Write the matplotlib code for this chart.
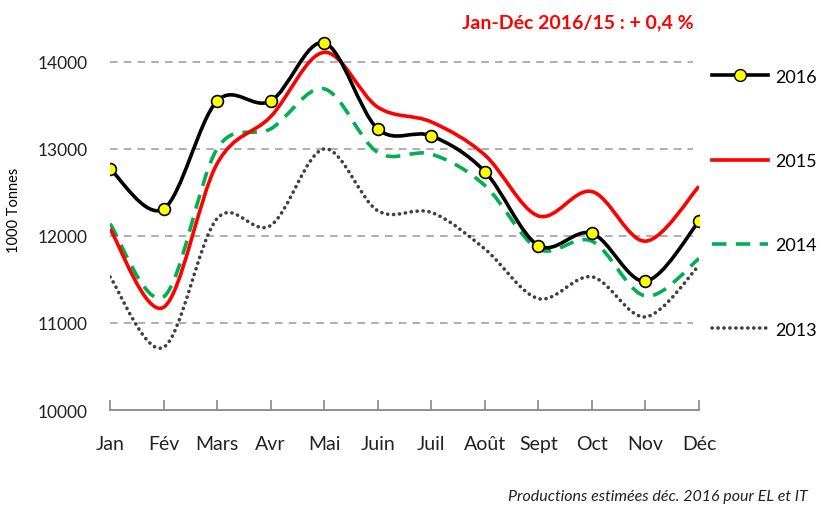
import matplotlib
matplotlib.use("Agg")
import matplotlib.pyplot as plt
import numpy as np
from matplotlib.path import Path
from matplotlib.patches import PathPatch
from matplotlib.lines import Line2D

plt.rcParams["font.family"] = ["Lato", "DejaVu Sans"]

months = ["Jan", "Fév", "Mars", "Avr", "Mai", "Juin", "Juil", "Août",
          "Sept", "Oct", "Nov", "Déc"]
prod_2016 = [12770, 12310, 13550, 13550, 14220, 13230, 13150, 12740,
             11890, 12030, 11480, 12170]
prod_2015 = [12080, 11180, 12830, 13370, 14110, 13480, 13310, 12930,
             12230, 12510, 11940, 12570]
prod_2014 = [12140, 11300, 13000, 13230, 13690, 12960, 12940, 12580,
             11850, 11940, 11310, 11740]
prod_2013 = [11530, 10720, 12200, 12120, 13000, 12290, 12270, 11850,
             11280, 11530, 11070, 11660]


def smooth_path(xs, ys):
    # courbe lissée façon Excel : Bézier cubiques (Catmull-Rom)
    pts = np.column_stack([xs, ys]).astype(float)
    verts = [pts[0]]
    codes = [Path.MOVETO]
    n = len(pts)
    for i in range(n - 1):
        p0 = pts[i - 1] if i > 0 else pts[i]
        p1 = pts[i]
        p2 = pts[i + 1]
        p3 = pts[i + 2] if i + 2 < n else pts[i + 1]
        verts += [p1 + (p2 - p0) / 6, p2 - (p3 - p1) / 6, p2]
        codes += [Path.CURVE4] * 3
    return Path(verts, codes)


fig = plt.figure(figsize=(8.22, 5.10), dpi=100)
ax = fig.add_axes([0.1338, 0.1941, 0.7166, 0.785])

x = np.arange(len(months))

styles = [
    (prod_2013, dict(color="#404040", lw=2.6, linestyle=(0, (0.05, 1.6)),
                     capstyle="round")),
    (prod_2014, dict(color="#00B050", lw=2.6, linestyle=(0, (4, 2.6)))),
    (prod_2015, dict(color="#FF0000", lw=2.6)),
    (prod_2016, dict(color="black", lw=2.6)),
]
for vals, st in styles:
    cap = st.pop("capstyle", "butt")
    patch = PathPatch(smooth_path(x, vals), facecolor="none", edgecolor=st["color"],
                      lw=st["lw"], linestyle=st.get("linestyle", "-"),
                      capstyle=cap, zorder=3)
    ax.add_patch(patch)

ax.plot(x, prod_2016, linestyle="none", marker="o", markersize=8.5,
        markerfacecolor="#FFFF00", markeredgecolor="black",
        markeredgewidth=1.2, zorder=4)

ax.set_xlim(0, len(months) - 1)
ax.set_ylim(10000, 14600)
ax.set_yticks([10000, 11000, 12000, 13000, 14000])
ax.set_xticks(x)
ax.set_xticklabels(months, fontsize=14)
ax.tick_params(axis="y", length=0, pad=16, labelsize=12.5, labelcolor="#222222")
ax.tick_params(axis="x", direction="in", length=7, color="#888888", width=1.2,
               pad=18, labelcolor="#222222")
for v in [11000, 12000, 13000, 14000]:
    ax.axhline(v, xmin=0, xmax=0.99, color="#999999", lw=1.1,
               linestyle=(0, (5, 4)), zorder=1)
for s in ["top", "right", "left"]:
    ax.spines[s].set_visible(False)
ax.spines["bottom"].set_color("#888888")
ax.spines["bottom"].set_linewidth(1.3)

ax.set_ylabel("1000 Tonnes", fontsize=10.5, labelpad=12)

handles = [
    Line2D([], [], color="black", lw=2.6, marker="o", markersize=8.5,
           markerfacecolor="#FFFF00", markeredgecolor="black"),
    Line2D([], [], color="#FF0000", lw=2.6),
    Line2D([], [], color="#00B050", lw=2.6, linestyle=(0, (4, 2.6))),
    Line2D([], [], color="#404040", lw=2.6, linestyle=(0, (0.05, 1.6)),
           dash_capstyle="round"),
]
fig.legend(handles, ["2016", "2015", "2014", "2013"], loc="upper left",
           bbox_to_anchor=(0.847, 0.895), frameon=False, fontsize=13,
           handlelength=3.1, handletextpad=0.4, labelspacing=3.78)

fig.text(0.703, 0.955, "Jan-Déc 2016/15 : + 0,4 %", color="#FF0000",
         fontsize=14, fontweight="bold", ha="center", va="center")
fig.text(0.983, 0.025, "Productions estimées déc. 2016 pour EL et IT",
         fontsize=11.5, style="italic", ha="right", va="center",
         color="#222222")

fig.savefig("out.png", dpi=100)
